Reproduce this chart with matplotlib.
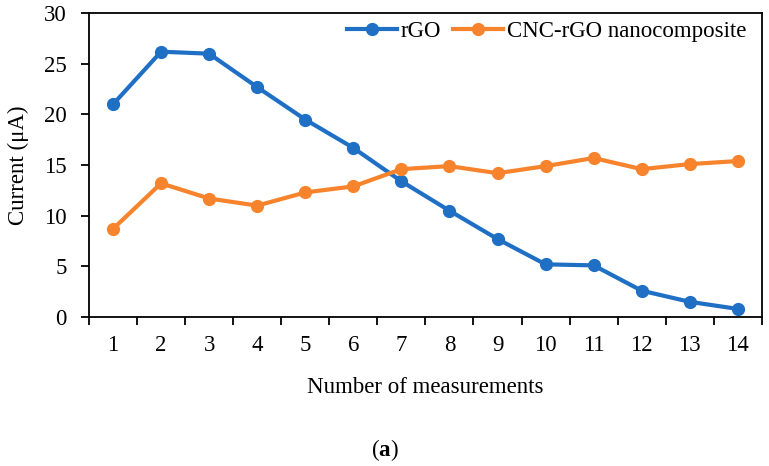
import matplotlib.pyplot as plt
import numpy as np
from matplotlib.ticker import FixedLocator, NullFormatter

plt.rcParams['font.family'] = ['Liberation Serif', 'DejaVu Serif']
plt.rcParams['mathtext.fontset'] = 'custom'
plt.rcParams['mathtext.rm'] = 'Liberation Serif'
plt.rcParams['mathtext.bf'] = 'Liberation Serif:bold'

measurements = list(range(1, 15))
rgo = [21.0, 26.2, 26.0, 22.7, 19.5, 16.7, 13.4, 10.5, 7.7, 5.2, 5.1, 2.6, 1.5, 0.8]
cnc_rgo = [8.7, 13.2, 11.7, 11.0, 12.3, 12.9, 14.6, 14.9, 14.2, 14.9, 15.7, 14.6, 15.1, 15.4]

blue = '#1f6fc5'
orange = '#f7842c'
fs = 16.5

fig = plt.figure(figsize=(7.69, 4.66), dpi=100)
ax = fig.add_axes([0.1157, 0.3197, 0.875, 0.652])

ax.plot(measurements, rgo, '-o', color=blue, lw=3, ms=8.5, label='rGO')
ax.plot(measurements, cnc_rgo, '-o', color=orange, lw=3, ms=8.5, label='CNC-rGO nanocomposite')

ax.set_xlim(0.5, 14.5)
ax.set_ylim(0, 30)
ax.set_yticks(range(0, 31, 5))
ax.set_xticks(measurements)
ax.xaxis.set_minor_locator(FixedLocator(np.arange(0.5, 15, 1)))
ax.xaxis.set_minor_formatter(NullFormatter())
ax.tick_params(axis='x', which='major', length=0, pad=13, labelsize=fs)
ax.tick_params(axis='x', which='minor', length=6, width=1.3, direction='out')
ax.tick_params(axis='y', length=6, width=1.3, direction='out', labelsize=fs, pad=10)
for s in ax.spines.values():
    s.set_linewidth(1.3)

ax.set_xlabel('Number of measurements', fontsize=fs, labelpad=15)
ax.set_ylabel('Current (μA)', fontsize=fs, labelpad=11)

ax.legend(loc='upper right', frameon=False, fontsize=fs, ncol=2, handlelength=2.2,
          handletextpad=0.15, columnspacing=0.5, borderaxespad=0.2,
          bbox_to_anchor=(0.997, 1.02))

fig.text(0.5, 0.034, r'($\mathbf{a}$)', ha='center', va='center', fontsize=fs)

fig.savefig('out.png', dpi=100)
